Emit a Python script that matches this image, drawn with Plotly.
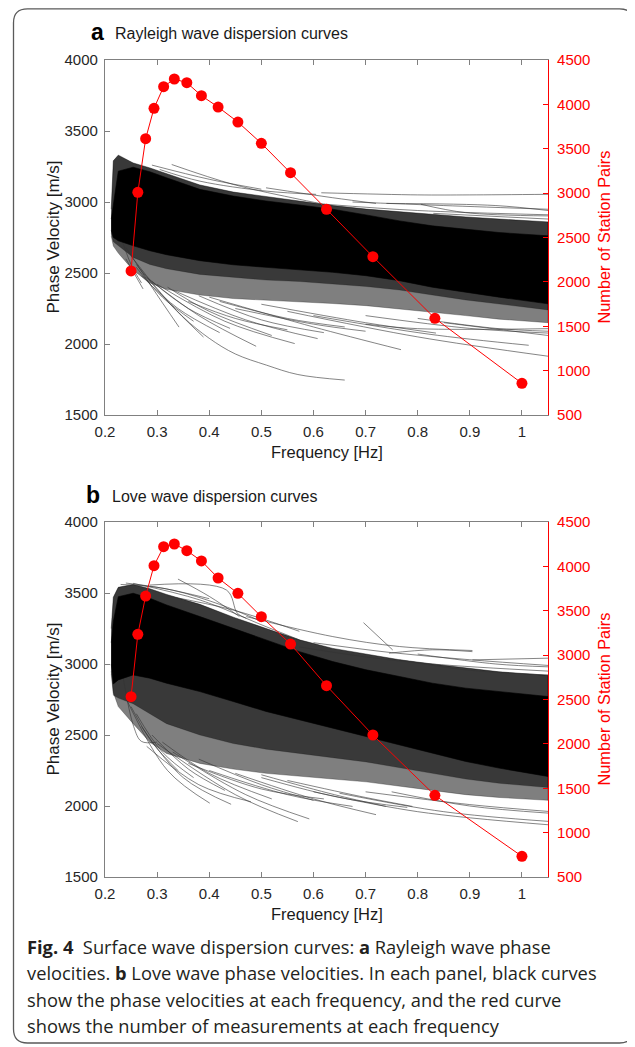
import plotly.graph_objects as go

# The page places the figure 8 px in from the window's top-left corner,
# so the figure is sized and positioned to compensate for that offset.
OFF = 8
W, H = 635 - OFF, 1047 - OFF

# ---------------- data ----------------
freq = [0.25, 0.263, 0.278, 0.294, 0.3125, 0.333, 0.357, 0.385, 0.417,
        0.455, 0.5, 0.556, 0.625, 0.714, 0.833, 1.0]
ray_pairs = [2123, 3009, 3613, 3956, 4199, 4286, 4244, 4098, 3970,
             3801, 3561, 3230, 2818, 2284, 1589, 857]
love_pairs = [2532, 3235, 3666, 4008, 4222, 4252, 4177, 4061, 3869,
              3696, 3433, 3125, 2656, 2100, 1420, 733]

band_f = [0.212, 0.216, 0.2255, 0.254, 0.286, 0.318, 0.382, 0.446, 0.509,
          0.573, 0.637, 0.701, 0.765, 0.828, 0.892, 0.956, 1.05]

# Rayleigh: dense core, denser hatch and outer hatch envelopes of the curves
ray_core_top = [2880, 2984, 3217, 3245, 3213, 3171, 3089, 3042, 3007,
                2979, 2949, 2909, 2867, 2832, 2808, 2785, 2762]
ray_core_bot = [2800, 2750, 2727, 2692, 2657, 2629, 2587, 2558, 2540,
                2521, 2505, 2481, 2446, 2400, 2365, 2330, 2283]
ray_env_top = [2950, 3290, 3330, 3275, 3240, 3200, 3120, 3070, 3040,
               3010, 2975, 2950, 2930, 2910, 2895, 2880, 2860]
ray_mid_bot = [2780, 2720, 2690, 2610, 2560, 2530, 2490, 2470, 2450,
               2440, 2425, 2405, 2380, 2345, 2310, 2280, 2240]
ray_env_bot = [2760, 2690, 2640, 2520, 2430, 2385, 2345, 2320, 2305,
               2295, 2285, 2270, 2250, 2225, 2200, 2175, 2150]

# Love: dense core, denser hatch and outer hatch envelopes of the curves
love_core_top = [3150, 3300, 3474, 3498, 3463, 3416, 3334, 3252, 3170,
                 3087, 3017, 2959, 2912, 2865, 2830, 2806, 2771]
love_core_bot = [3000, 2860, 2888, 2923, 2900, 2865, 2806, 2736, 2666,
                 2607, 2548, 2490, 2431, 2373, 2314, 2267, 2208]
love_env_top = [3250, 3470, 3540, 3560, 3530, 3490, 3420, 3330, 3250,
                3170, 3110, 3070, 3030, 3000, 2970, 2945, 2920]
love_mid_bot = [2930, 2780, 2760, 2720, 2650, 2580, 2500, 2440, 2400,
                2370, 2340, 2310, 2270, 2230, 2190, 2160, 2130]
love_env_bot = [2950, 2800, 2700, 2580, 2450, 2370, 2300, 2260, 2230,
                2210, 2190, 2170, 2140, 2110, 2080, 2060, 2040]

# individual outlying curves (freq list, velocity list)
ray_curves = [
    ([0.25, 0.30, 0.35, 0.40, 0.45, 0.51, 0.57, 0.66], [2620, 2390, 2190, 2040, 1930, 1851, 1785, 1746]),
    ([0.24, 0.29, 0.342], [2680, 2400, 2119]),
    ([0.26, 0.32, 0.389], [2560, 2300, 2049]),
    ([0.28, 0.38, 0.49], [2470, 2200, 1984]),
    ([0.30, 0.43, 0.564], [2420, 2160, 2003]),
    ([0.33, 0.47, 0.608], [2380, 2170, 2038]),
    ([0.40, 0.60, 0.768], [2330, 2120, 1960]),
    ([0.55, 0.80, 1.05], [2230, 2050, 1914]),
    ([0.60, 0.82, 1.013], [2200, 2070, 1991]),
    ([0.50, 0.70, 0.835], [2280, 2150, 2077]),
    ([0.70, 0.90, 1.05], [2200, 2110, 2077]),
    ([0.24, 0.273], [2600, 2388]),
    ([0.70, 0.80, 1.05], [2140, 2108, 2108]),
    ([0.36, 0.45, 0.55], [2300, 2180, 2100]),
    ([0.27, 0.34, 0.42], [2480, 2250, 2080]),
    ([0.45, 0.60, 0.70], [2250, 2140, 2090]),
    ([0.26, 0.31, 0.37], [2540, 2330, 2160]),
    ([0.29, 0.36, 0.44], [2440, 2250, 2110]),
    ([0.32, 0.40, 0.52], [2400, 2230, 2060]),
    ([0.38, 0.50, 0.62], [2340, 2170, 2080]),
    ([0.42, 0.55, 0.66], [2300, 2180, 2120]),
    ([0.80, 0.95, 1.05], [2180, 2110, 2090]),
    ([0.85, 1.05], [2150, 2060]),
    ([0.23, 0.25, 0.27], [2760, 2560, 2430]),
    ([0.615, 0.80, 0.90, 1.05], [3065, 3050, 3050, 3054]),
    ([0.675, 0.85, 1.05], [3000, 2975, 2949]),
    ([0.328, 0.446, 0.573, 0.637], [3264, 3124, 3019, 2972]),
    ([0.305, 0.382, 0.509, 0.605], [3229, 3147, 3077, 3054]),
    ([0.806, 0.892, 1.05], [2984, 2925, 2902]),
    ([0.74, 0.95, 1.05], [2990, 2975, 2940]),
    ([0.509, 0.637, 0.72], [3100, 3030, 2990]),
    ([0.83, 1.05], [2920, 2880]),
    ([0.29, 0.40, 0.50], [3260, 3160, 3090]),
    ([0.62, 0.80, 1.05], [2985, 2940, 2910]),
]
love_curves = [
    ([0.24, 0.32, 0.401], [2760, 2250, 2020]),
    ([0.27, 0.35, 0.442], [2560, 2200, 2012]),
    ([0.30, 0.45, 0.57], [2440, 2080, 1890]),
    ([0.33, 0.47, 0.592], [2380, 2080, 1909]),
    ([0.45, 0.60, 0.72], [2230, 2050, 1939]),
    ([0.50, 0.64, 0.739], [2220, 2080, 1997]),
    ([0.55, 0.70, 0.79], [2180, 2060, 1997]),
    ([0.60, 0.80, 1.05], [2100, 1960, 1868]),
    ([0.65, 0.85, 1.05], [2090, 1960, 1892]),
    ([0.70, 0.90, 1.05], [2100, 2010, 1962]),
    ([0.235, 0.255, 0.27, 0.30], [2900, 2560, 2455, 2450]),
    ([0.40, 0.55, 0.675], [2250, 2080, 1997]),
    ([0.28, 0.38, 0.48], [2420, 2150, 2030]),
    ([0.36, 0.50, 0.62], [2300, 2120, 2050]),
    ([0.25, 0.29, 0.34], [2700, 2450, 2250]),
    ([0.26, 0.31, 0.37], [2650, 2380, 2200]),
    ([0.29, 0.36, 0.43], [2500, 2260, 2110]),
    ([0.31, 0.40, 0.52], [2450, 2230, 2050]),
    ([0.38, 0.50, 0.60], [2330, 2150, 2040]),
    ([0.75, 0.90, 1.05], [2100, 2000, 1950]),
    ([0.50, 0.65, 0.78], [2200, 2060, 1990]),
    ([0.34, 0.401, 0.458], [3598, 3474, 3334]),
    ([0.286, 0.433, 0.454, 0.471], [3556, 3521, 3357, 3322]),
    ([0.254, 0.382, 0.509, 0.573], [3568, 3451, 3263, 3170]),
    ([0.471, 0.637, 0.765, 0.905], [3334, 3193, 3123, 3095]),
    ([0.696, 0.752], [3291, 3099]),
    ([0.745, 0.828, 0.905], [3076, 3100, 3087]),
    ([0.905, 1.05], [3029, 3041]),
    ([0.765, 0.892, 1.05], [3029, 2959, 2923]),
    ([0.573, 0.70, 0.828, 1.05], [3120, 3050, 3000, 2950]),
    ([0.318, 0.446, 0.573], [3480, 3380, 3230]),
    ([0.23, 0.30, 0.40], [3560, 3540, 3460]),
    ([0.24, 0.33, 0.42, 0.50], [3570, 3520, 3420, 3300]),
    ([0.60, 0.75, 0.90, 1.05], [3150, 3080, 3030, 2990]),
    ([0.80, 0.95, 1.05], [3070, 3000, 2980]),
]

xtick_vals = [0.2, 0.3, 0.4, 0.5, 0.6, 0.7, 0.8, 0.9, 1.0]
xtick_text = ["0.2", "0.3", "0.4", "0.5", "0.6", "0.7", "0.8", "0.9", "1"]
vel_ticks = [1500, 2000, 2500, 3000, 3500, 4000]
pair_ticks = [500, 1000, 1500, 2000, 2500, 3000, 3500, 4000, 4500]

# ---------------- figure ----------------
FONT = "Liberation Sans, Arial, Helvetica, sans-serif"
fig = go.Figure()


def band(xa, ya, top, bot, color, edge):
    fig.add_trace(go.Scatter(
        x=band_f + band_f[::-1], y=top + bot[::-1], fill="toself",
        fillcolor=color, line=dict(width=0.6, color=edge),
        mode="lines", xaxis=xa, yaxis=ya, hoverinfo="skip", showlegend=False))


def add_panel(xa, ya, ya2, top_env, mid_bot, bot_env, top_core, bot_core, curves, pairs):
    band(xa, ya, top_env, bot_env, "rgba(0,0,0,0.5)", "rgba(0,0,0,0.45)")
    band(xa, ya, top_env, mid_bot, "rgba(0,0,0,0.55)", "rgba(0,0,0,0.3)")
    for cf, cv in curves:
        fig.add_trace(go.Scatter(
            x=cf, y=cv, mode="lines", line=dict(width=0.8, color="rgba(50,50,50,0.75)", shape="spline"),
            xaxis=xa, yaxis=ya, hoverinfo="skip", showlegend=False))
    band(xa, ya, top_core, bot_core, "black", "black")
    fig.add_trace(go.Scatter(
        x=freq, y=pairs, mode="lines+markers",
        line=dict(color="#ff0000", width=1),
        marker=dict(color="#ff0000", size=11),
        xaxis=xa, yaxis=ya2, showlegend=False))


add_panel("x", "y", "y2", ray_env_top, ray_mid_bot, ray_env_bot, ray_core_top, ray_core_bot,
          ray_curves, ray_pairs)
add_panel("x2", "y3", "y4", love_env_top, love_mid_bot, love_env_bot, love_core_top, love_core_bot,
          love_curves, love_pairs)


def X(px):
    return (px - OFF) / W


def Y(py):
    return 1 - (py - OFF) / H


xd = [X(105), X(548)]
ya_dom = [Y(415), Y(60)]
yb_dom = [Y(877), Y(522)]

tickfont = dict(family=FONT, size=15, color="#262626")
xcommon = dict(domain=xd, range=[0.2, 1.05], tickvals=xtick_vals, ticktext=xtick_text,
               ticks="inside", ticklen=5, tickcolor="#808080", showline=True,
               linecolor="#808080", linewidth=1.2, mirror="ticks", showgrid=False,
               zeroline=False, tickfont=tickfont, ticklabelstandoff=3, automargin=False)
ycommon = dict(range=[1500, 4000], tickvals=vel_ticks, ticks="inside", ticklen=5,
               tickcolor="#808080", showline=True, linecolor="#808080", linewidth=1.2,
               showgrid=False, zeroline=False, tickfont=tickfont, ticklabelstandoff=3,
               automargin=False)
rcommon = dict(range=[500, 4500], tickvals=pair_ticks, ticks="inside", ticklen=5,
               tickcolor="#ff0000", showline=True, linecolor="#ff0000", linewidth=1.2,
               showgrid=False, zeroline=False, side="right",
               tickfont=dict(family=FONT, size=15, color="#ff0000"), ticklabelstandoff=5,
               automargin=False)

fig.update_layout(
    width=W, height=H, margin=dict(l=0, r=0, t=0, b=0, autoexpand=False),
    paper_bgcolor="white", plot_bgcolor="rgba(0,0,0,0)",
    xaxis=dict(anchor="y", **xcommon),
    yaxis=dict(domain=ya_dom, anchor="x", **ycommon),
    yaxis2=dict(overlaying="y", anchor="x", **rcommon),
    xaxis2=dict(anchor="y3", **xcommon),
    yaxis3=dict(domain=yb_dom, anchor="x2", **ycommon),
    yaxis4=dict(overlaying="y3", anchor="x2", **rcommon),
)

ann = []
for (ly, letter, lx, title, tx, ycen, xt_y) in [
        (32, "a", 97, "Rayleigh wave dispersion curves", 113, 237.5, 452),
        (495, "b", 93, "Love wave dispersion curves", 110, 699.5, 914)]:
    ann.append(dict(x=X(lx), y=Y(ly), text="<b>" + letter + "</b>", xanchor="center", yanchor="middle",
                    font=dict(family=FONT, size=23, color="black")))
    ann.append(dict(x=X(tx), y=Y(ly + 1), text=title, xanchor="left", yanchor="middle",
                    font=dict(family=FONT, size=16, color="#1a1a1a")))
    ann.append(dict(x=X(53), y=Y(ycen), text="Phase Velocity [m/s]", textangle=-90,
                    xanchor="center", yanchor="middle", font=dict(family=FONT, size=17, color="#1a1a1a")))
    ann.append(dict(x=X(603), y=Y(ycen), text="Number of Station Pairs", textangle=-90,
                    xanchor="center", yanchor="middle", font=dict(family=FONT, size=16.3, color="#ff0000")))
    ann.append(dict(x=X(326.5), y=Y(xt_y), text="Frequency [Hz]", xanchor="center", yanchor="middle",
                    font=dict(family=FONT, size=16.5, color="#1a1a1a")))

caption = [
    "<b>Fig. 4</b>  Surface wave dispersion curves: <b>a</b> Rayleigh wave phase",
    "velocities. <b>b</b> Love wave phase velocities. In each panel, black curves",
    "show the phase velocities at each frequency, and the red curve",
    "shows the number of measurements at each frequency",
]
cap_y = [946, 972.5, 999, 1025.5]
for t, cy in zip(caption, cap_y):
    ann.append(dict(x=X(25), y=Y(cy), text=t, xanchor="left", yanchor="middle",
                    font=dict(family="Open Sans, Noto Sans, sans-serif", size=18.3, color="#231f20")))

for a in ann:
    a.update(xref="paper", yref="paper", showarrow=False)
fig.update_layout(annotations=ann)

# rounded frame (top edge clamped to the visible area)
x0, x1, y0, y1, r = 13.5, 633.5, max(4.5, OFF + 0.8), 1043, 14
pts = [("M", x0 + r, y0), ("L", x1 - r, y0), ("Q", x1, y0, x1, y0 + r), ("L", x1, y1 - r),
       ("Q", x1, y1, x1 - r, y1), ("L", x0 + r, y1), ("Q", x0, y1, x0, y1 - r),
       ("L", x0, y0 + r), ("Q", x0, y0, x0 + r, y0)]
path = ""
for p in pts:
    cmd = p[0]
    coords = p[1:]
    segs = []
    for i in range(0, len(coords), 2):
        segs.append(f"{X(coords[i]):.5f},{Y(coords[i + 1]):.5f}")
    path += cmd + " " + " ".join(segs) + " "
path += "Z"
fig.add_shape(type="path", path=path, xref="paper", yref="paper",
              line=dict(color="#5a5a5a", width=1.3), layer="below")

fig.write_html("out.html")
